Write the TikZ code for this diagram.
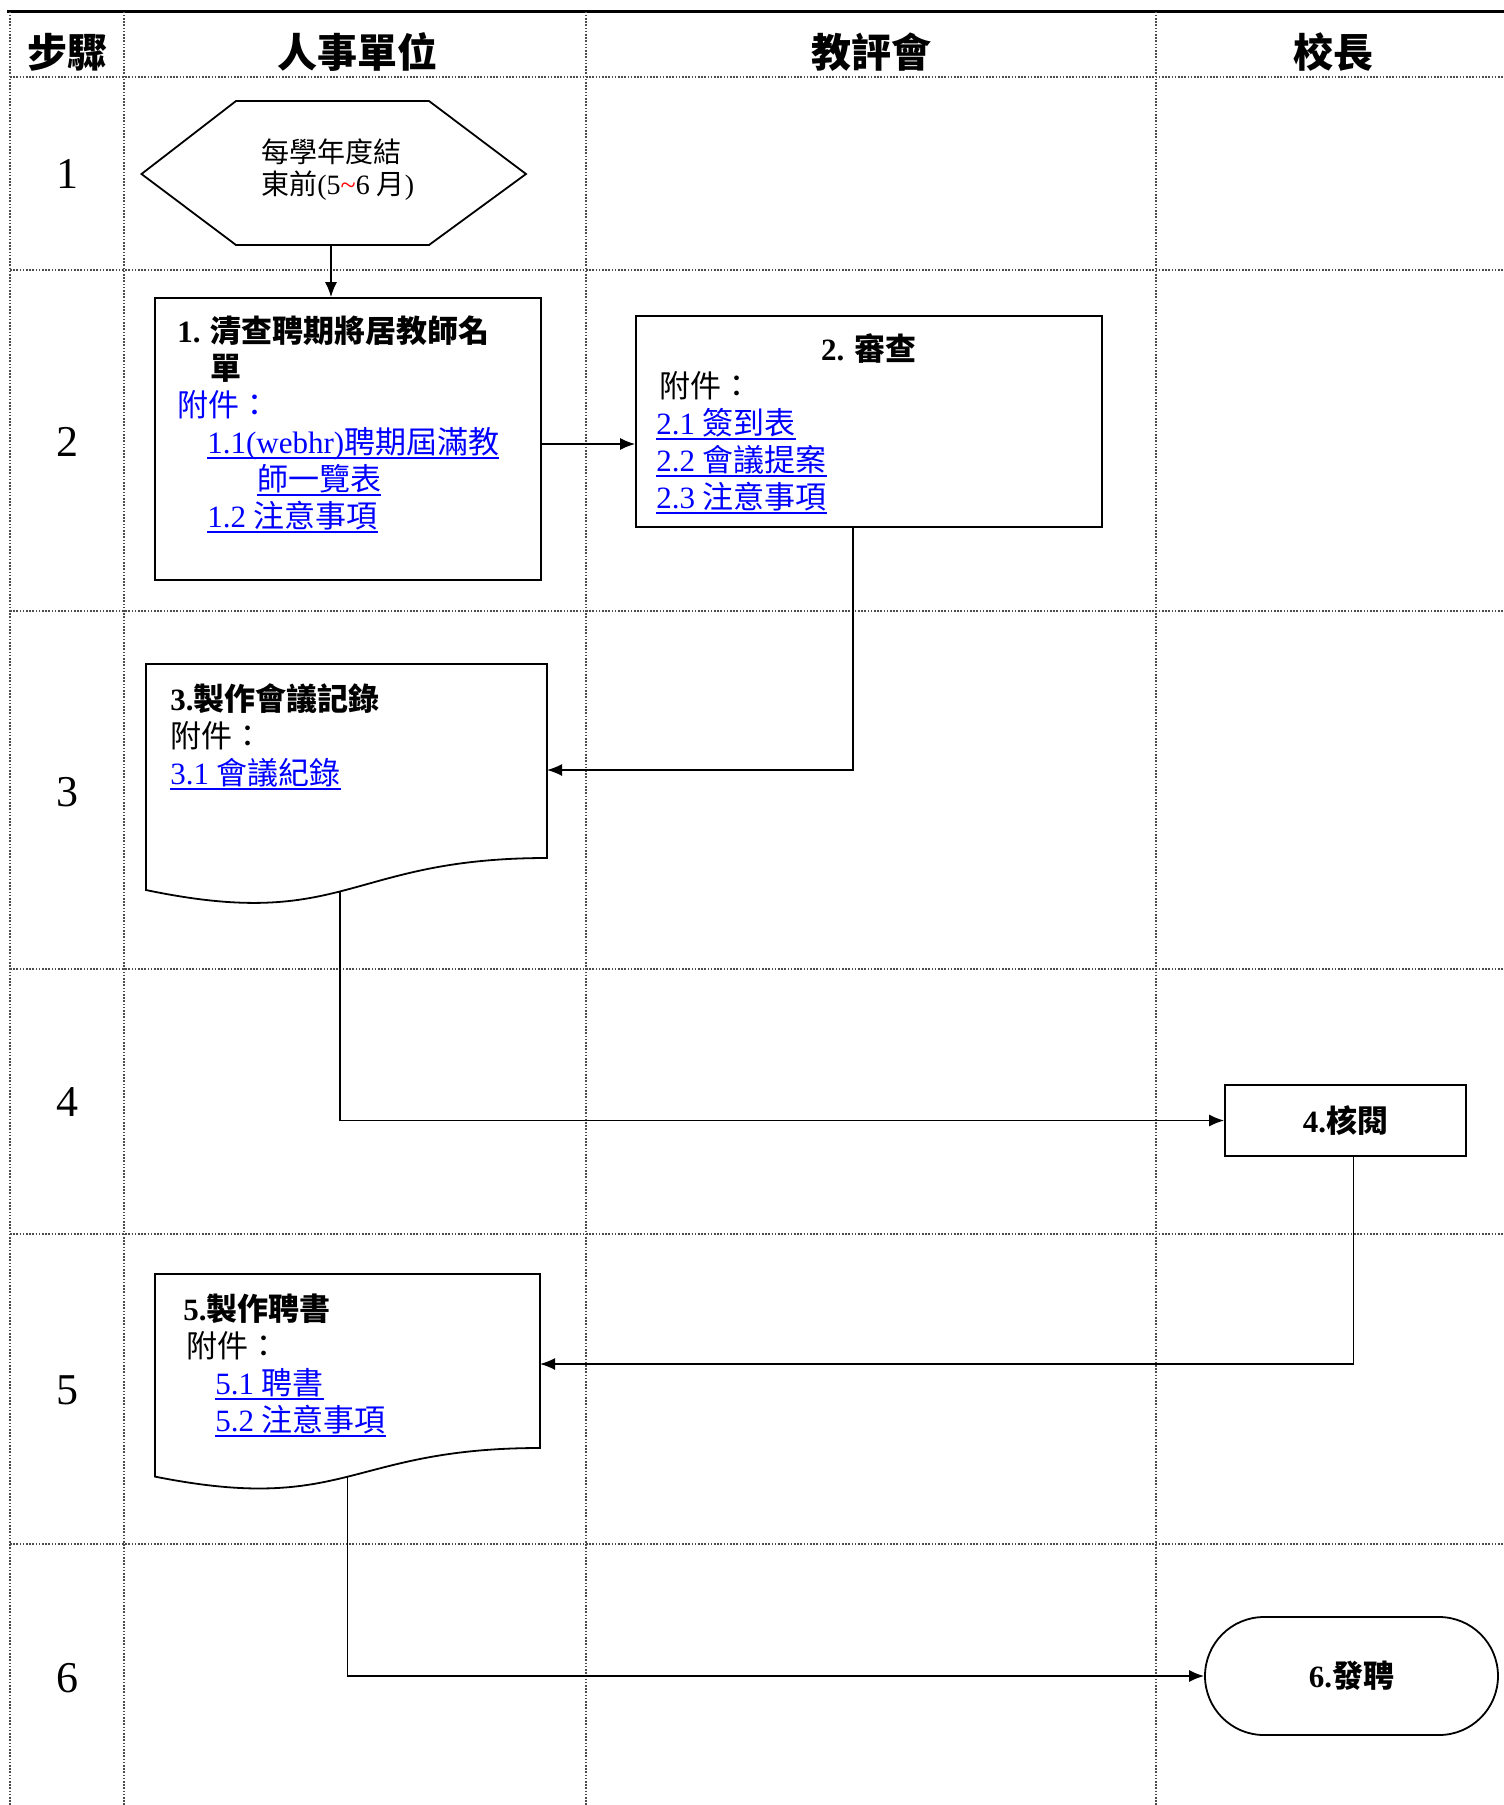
\documentclass[tikz,border=0pt]{standalone}
\usepackage{fontspec}
\setmainfont{Liberation Serif}
\newfontfamily\cjk{Noto Sans CJK TC}
\usetikzlibrary{arrows.meta}

\definecolor{lnkblue}{RGB}{0,0,255}
\newcommand\zh[1]{{\cjk #1}}
\newsavebox\lnkbox
\newcommand\doclink[1]{{\color{lnkblue}\sbox\lnkbox{#1}\rlap{\rule[-3pt]{\wd\lnkbox}{0.9pt}}\usebox\lnkbox}}

\begin{document}
\begin{tikzpicture}[x=1pt, y=-1pt, >={Latex[length=7.5pt,width=6pt]},
  grid/.style={black!70, line width=0.8pt, dash pattern=on 0.8pt off 0.8pt},
  box/.style={draw, line width=0.9pt, inner sep=0pt},
  flow/.style={->, line width=0.75pt},
  head/.style={font=\fontsize{20}{24}\selectfont\bfseries\cjk},
  stepno/.style={font=\fontsize{22}{26}\selectfont},
  txt/.style={font=\fontsize{15.5}{18.5}\selectfont, inner sep=0pt, anchor=base west, align=left}]

  \useasboundingbox (0,0) rectangle (752,902.5);

  % table frame
  \draw[line width=1.4pt] (3.5,5.75) -- (752,5.75);
  \foreach \x in {5,62,293,578}
    \draw[grid] (\x,5.75) -- (\x,902.5);
  \foreach \y in {38.5,135,305.5,484.5,617,772}
    \draw[grid] (5,\y) -- (752,\y);

  % column heads
  \node[head] (h-step) at (33.5,26) {步驟};
  \node[head] (h-hr) at (178.5,26) {人事單位};
  \node[head] (h-com) at (435.5,26) {教評會};
  \node[head] (h-head) at (666.5,26) {校長};

  % step numbers
  \foreach \n/\y in {1/87,2/221,3/396,4/551,5/695,6/839}
    \node[stepno] (n\n) at (33.5,\y) {\n};

  % 1: start (base = last line)
  \draw[line width=0.9pt] (70.75,87) -- (118,50.5) -- (214.5,50.5) -- (263,87)
    -- (214.5,122.5) -- (118,122.5) -- cycle;
  \coordinate (start-s) at (165.5,122.5);
  \node[txt, font=\fontsize{14}{16}\selectfont] (start) at (130.5,97)
    {\zh{每學年度結}\\\zh{東前}(5{\color{red}\textasciitilde}6 \zh{月})};

  % 2: list of teachers
  \node[box, minimum width=193pt, minimum height=141pt] (chk) at (174,219.5) {};
  \node[txt] (chk-t) at (88.5,263.5)
    {{\bfseries 1. \zh{清查聘期將居教師名}}\\
     \hspace*{16.5pt}{\bfseries\zh{單}}\\
     {\color{lnkblue}\zh{附件：}}\\
     \hspace*{15pt}\doclink{1.1(webhr)\zh{聘期屆滿教}}\\
     \hspace*{40pt}\doclink{\zh{師一覽表}}\\
     \hspace*{15pt}\doclink{1.2 \zh{注意事項}}};

  % 2: review
  \node[box, minimum width=233pt, minimum height=105.5pt] (rev) at (434.5,210.75) {};
  \node[txt, anchor=base] (rev-t) at (434.5,180) {\bfseries 2. \zh{審查}};
  \node[txt] (rev-a) at (328,254)
    {\hspace*{1.5pt}\zh{附件：}\\
     \doclink{2.1 \zh{簽到表}}\\
     \doclink{2.2 \zh{會議提案}}\\
     \doclink{2.3 \zh{注意事項}}};

  % 3: minutes (document shape)
  \draw[line width=0.9pt] (73,332) -- (273.5,332) -- (273.5,429)
    .. controls (173.25,429) and (173.25,466) .. (73,445) -- cycle;
  \coordinate (mtg-e) at (273.5,385);
  \coordinate (mtg-s) at (170,445.5);
  \node[txt] (mtg) at (85,392)
    {{\bfseries 3.\zh{製作會議記錄}}\\
     \zh{附件：}\\
     \doclink{3.1 \zh{會議紀錄}}};

  % 4: approval
  \node[box, minimum width=120.5pt, minimum height=35.5pt,
    font=\fontsize{15.5}{18.5}\selectfont\bfseries] (apv) at (672.75,560.25) {4.\zh{核閱}};

  % 5: letters (document shape)
  \draw[line width=0.9pt] (77.5,637) -- (270,637) -- (270,724)
    .. controls (173.75,724) and (173.75,757.5) .. (77.5,738.3) -- cycle;
  \coordinate (ltr-e) at (270,682);
  \coordinate (ltr-s) at (173.75,738.3);
  \node[txt] (ltr) at (91.5,715.5)
    {{\bfseries 5.\zh{製作聘書}}\\
     \hspace*{1.5pt}\zh{附件：}\\
     \hspace*{16pt}\doclink{5.1 \zh{聘書}}\\
     \hspace*{16pt}\doclink{5.2 \zh{注意事項}}};

  % 6: issue
  \node[box, rounded corners=29.5pt, minimum width=146.5pt, minimum height=59pt,
    font=\fontsize{15.5}{18.5}\selectfont\bfseries] (pub) at (675.75,838) {6.\zh{發聘}};

  % flow
  \draw[flow] (start-s) -- (start-s |- chk.north);
  \draw[flow] ([yshift=-2.5pt]chk.east) -- ([yshift=-2.5pt]chk.east -| rev.west);
  \draw[flow] ([xshift=-8pt]rev.south) |- (mtg-e);
  \draw[flow] (mtg-s) |- (apv.west);
  \draw[flow] ([xshift=4pt]apv.south) |- (ltr-e);
  \draw[flow] (ltr-s) |- (pub.west);

\end{tikzpicture}
\end{document}
